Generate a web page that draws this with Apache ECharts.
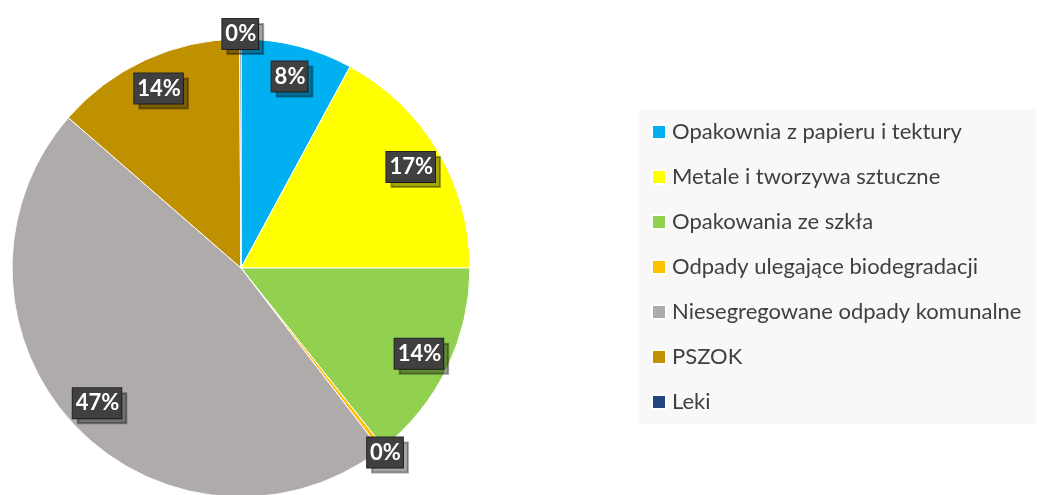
<!DOCTYPE html>
<html>
<head>
<meta charset="utf-8">
<style>
  html, body { margin: 0; padding: 0; background: #fff; }
  #chart_pie { width: 1037px; height: 495px; }
</style>
<script src="https://cdn.jsdelivr.net/npm/echarts@6/dist/echarts.min.js"></script>
</head>
<body>
<div id="chart_pie"></div>
<script>
// dane wykresu
var categories = [
    'Opakownia z papieru i tektury',
    'Metale i tworzywa sztuczne',
    'Opakowania ze szkła',
    'Odpady ulegające biodegradacji',
    'Niesegregowane odpady komunalne',
    'PSZOK',
    'Leki'
];
var values = [7.9, 17.1, 14.3, 0.3, 46.8, 13.5, 0.1];
var colors = ['#00B0F0', '#FFFF00', '#92D050', '#FFC000', '#AFABAB', '#BF9000', '#254580'];

var total = values.reduce(function (a, b) { return a + b; }, 0);
function roundedPct(v) { return Math.round(v / total * 100); }

var labelStyle = {
    color: '#fff',
    fontFamily: 'Lato',
    fontWeight: 'bold',
    fontSize: 22,
    backgroundColor: '#404040',
    borderColor: '#262626',
    borderWidth: 1,
    padding: [5, 2, 3, 3],
    shadowColor: 'rgba(0,0,0,0.35)',
    shadowOffsetX: 5,
    shadowOffsetY: 5,
    shadowBlur: 0,
    formatter: function (p) { return Math.round(p.percent) + '%'; }
};

// kawałki tortu
var sliceData = categories.map(function (name, i) {
    return { name: name, value: values[i], itemStyle: { color: colors[i] } };
});

// etykiety: duże wartości w środku, zerowe na brzegu
function labelData(showZero) {
    return categories.map(function (name, i) {
        var isZero = roundedPct(values[i]) === 0;
        return {
            name: name,
            value: values[i],
            label: { show: showZero ? isZero : !isZero }
        };
    });
}

var myChart = echarts.init(document.getElementById('chart_pie'));

var option = {
    animation: false,
    color: colors,
    legend: {
        orient: 'vertical',
        left: 639,
        top: 109,
        padding: [12, 14, 11, 12],
        backgroundColor: '#f8f8f8',
        icon: 'rect',
        itemWidth: 14,
        itemHeight: 14,
        itemGap: 23,
        selectedMode: false,
        data: categories,
        textStyle: {
            color: '#404040',
            fontFamily: 'Lato',
            fontSize: 22,
            padding: [0, 0, 0, 1]
        }
    },
    series: [
        {
            type: 'pie',
            center: [241, 268],
            radius: 229,
            silent: true,
            label: { show: false },
            labelLine: { show: false },
            itemStyle: { borderColor: '#fff', borderWidth: 1 },
            data: sliceData
        },
        {
            type: 'pie',
            center: [241, 268],
            radius: [160, 229],
            silent: true,
            itemStyle: { color: 'rgba(0,0,0,0)' },
            label: Object.assign({ position: 'inside' }, labelStyle),
            labelLine: { show: false },
            data: labelData(false)
        },
        {
            type: 'pie',
            center: [241, 268],
            radius: [206, 256],
            silent: true,
            itemStyle: { color: 'rgba(0,0,0,0)' },
            label: Object.assign({ position: 'inside' }, labelStyle),
            labelLine: { show: false },
            data: labelData(true)
        }
    ]
};

myChart.setOption(option);
</script>
</body>
</html>
